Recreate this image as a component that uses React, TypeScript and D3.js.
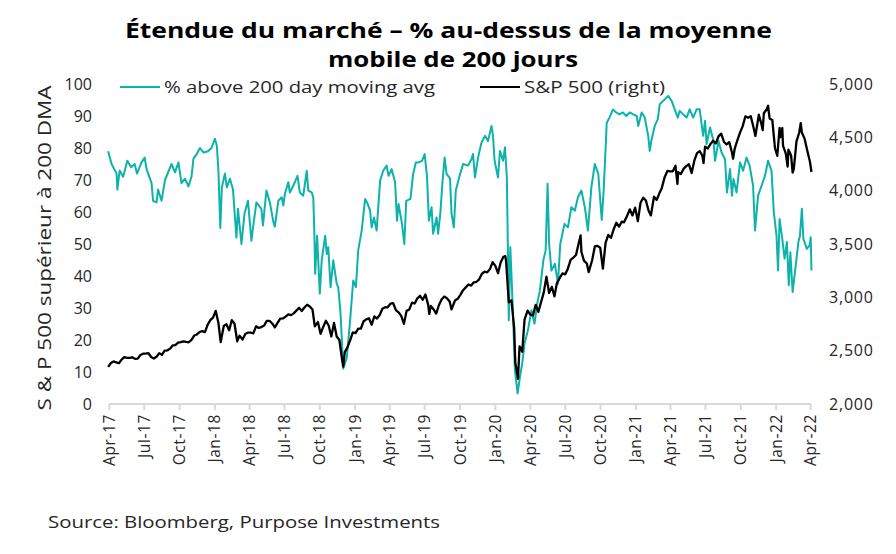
import * as d3 from 'd3';

// % of S&P 500 members above their 200 day moving average (left axis)
const breadth: [string, number][] = [
  ['2017-04-21', 79], ['2017-04-30', 75], ['2017-05-13', 72], ['2017-05-15', 67], ['2017-05-21', 73],
  ['2017-05-30', 71], ['2017-06-10', 76], ['2017-06-20', 74], ['2017-06-29', 75], ['2017-07-05', 72],
  ['2017-07-17', 75.5], ['2017-07-25', 77], ['2017-07-30', 73.5], ['2017-08-12', 69], ['2017-08-16', 63.5],
  ['2017-08-25', 63], ['2017-08-29', 67], ['2017-09-07', 63.5], ['2017-09-16', 70], ['2017-10-03', 75],
  ['2017-10-12', 72.4], ['2017-10-21', 75.5], ['2017-10-29', 69], ['2017-11-07', 70.4], ['2017-11-16', 68],
  ['2017-11-24', 71], ['2017-11-29', 76.6], ['2017-12-07', 78], ['2017-12-16', 80], ['2017-12-25', 78.6],
  ['2018-01-06', 79], ['2018-01-15', 80], ['2018-01-24', 82.9], ['2018-01-29', 80.7], ['2018-02-02', 73],
  ['2018-02-07', 55], ['2018-02-11', 67.7], ['2018-02-19', 72], ['2018-02-24', 67.7], ['2018-03-04', 70.4],
  ['2018-03-12', 67], ['2018-03-21', 52], ['2018-03-25', 61], ['2018-04-03', 50], ['2018-04-11', 59.5],
  ['2018-04-20', 63.5], ['2018-04-29', 51], ['2018-05-03', 55], ['2018-05-12', 63], ['2018-05-25', 61],
  ['2018-05-29', 55.8], ['2018-06-07', 66.7], ['2018-06-16', 63], ['2018-06-25', 57], ['2018-06-29', 55.4],
  ['2018-07-08', 63.5], ['2018-07-17', 64.6], ['2018-07-21', 62], ['2018-07-25', 65.6], ['2018-08-03', 69.3],
  ['2018-08-07', 66.1], ['2018-08-16', 68.2], ['2018-08-27', 71.3], ['2018-09-02', 66.1], ['2018-09-11', 65.1],
  ['2018-09-20', 72.9], ['2018-09-24', 66.7], ['2018-10-03', 66.1], ['2018-10-07', 64.6], ['2018-10-10', 52.6],
  ['2018-10-12', 40.7], ['2018-10-17', 52.6], ['2018-10-24', 34.5], ['2018-10-29', 44.9], ['2018-11-07', 52.6],
  ['2018-11-11', 46.9], ['2018-11-15', 49], ['2018-11-21', 36.5], ['2018-11-28', 44.9], ['2018-12-07', 37.6],
  ['2018-12-11', 36.5], ['2018-12-17', 28.3], ['2018-12-24', 11], ['2019-01-02', 14.3], ['2019-01-11', 26.2],
  ['2019-01-19', 38.6], ['2019-01-26', 36.5], ['2019-02-01', 48], ['2019-02-10', 54.2], ['2019-02-19', 64.1],
  ['2019-02-24', 63], ['2019-03-04', 60.4], ['2019-03-08', 55.2], ['2019-03-14', 58.3], ['2019-03-21', 54.2],
  ['2019-03-30', 69.8], ['2019-04-07', 72.9], ['2019-04-16', 74.5], ['2019-04-21', 71.3], ['2019-04-29', 73.4],
  ['2019-05-08', 69.3], ['2019-05-13', 57.3], ['2019-05-17', 62.5], ['2019-05-26', 56.3], ['2019-06-01', 50],
  ['2019-06-06', 63.5], ['2019-06-17', 64.1], ['2019-06-24', 71.9], ['2019-07-01', 75.5], ['2019-07-08', 75.5],
  ['2019-07-17', 76], ['2019-07-24', 78.1], ['2019-07-30', 71.3], ['2019-08-04', 57.3], ['2019-08-11', 61.5],
  ['2019-08-15', 53.2], ['2019-08-24', 58.3], ['2019-08-28', 53.2], ['2019-09-03', 59.9], ['2019-09-08', 68.8],
  ['2019-09-14', 77], ['2019-09-19', 71.9], ['2019-09-28', 70.5], ['2019-10-02', 59.4], ['2019-10-08', 55.2],
  ['2019-10-13', 66.7], ['2019-10-23', 71.3], ['2019-11-01', 75], ['2019-11-14', 74.5], ['2019-11-23', 76.5],
  ['2019-11-27', 78.1], ['2019-12-02', 70.8], ['2019-12-10', 77], ['2019-12-19', 81.7], ['2019-12-28', 83.8],
  ['2020-01-05', 82.2], ['2020-01-14', 86.9], ['2020-01-18', 83.8], ['2020-01-22', 76], ['2020-01-31', 70.8],
  ['2020-02-05', 79.1], ['2020-02-13', 76], ['2020-02-18', 80.2], ['2020-02-23', 70.8], ['2020-02-26', 45.9],
  ['2020-02-28', 26.2], ['2020-03-03', 49], ['2020-03-09', 31.4], ['2020-03-15', 10.6], ['2020-03-22', 3.3],
  ['2020-03-28', 8.5], ['2020-04-03', 12.7], ['2020-04-09', 18.9], ['2020-04-18', 23.1], ['2020-04-27', 29.3],
  ['2020-05-05', 25.1], ['2020-05-12', 31.4], ['2020-05-19', 35.5], ['2020-05-28', 44.9], ['2020-06-03', 48],
  ['2020-06-08', 68.8], ['2020-06-12', 50], ['2020-06-18', 41.7], ['2020-06-27', 43.8], ['2020-07-05', 37.6],
  ['2020-07-11', 50], ['2020-07-22', 56.3], ['2020-07-31', 55.2], ['2020-08-09', 61.5], ['2020-08-18', 60.4],
  ['2020-08-26', 64.6], ['2020-09-04', 66.7], ['2020-09-13', 61.5], ['2020-09-21', 54.2], ['2020-09-30', 67.7],
  ['2020-10-09', 75], ['2020-10-18', 71.9], ['2020-10-27', 57.5], ['2020-11-01', 66.7], ['2020-11-04', 74.5],
  ['2020-11-09', 87.9], ['2020-11-16', 89.5], ['2020-11-25', 92], ['2020-12-04', 91.1], ['2020-12-12', 90.5],
  ['2020-12-21', 91.1], ['2020-12-30', 90], ['2021-01-08', 91.1], ['2021-01-17', 90.5], ['2021-01-26', 90],
  ['2021-01-30', 86.9], ['2021-02-08', 91.1], ['2021-02-16', 89.5], ['2021-02-25', 83.8], ['2021-03-01', 79.1],
  ['2021-03-05', 82.2], ['2021-03-14', 86.9], ['2021-03-22', 89], ['2021-03-27', 93.7], ['2021-04-09', 95.2],
  ['2021-04-18', 96.3], ['2021-04-27', 94.7], ['2021-05-05', 92.1], ['2021-05-13', 89.5], ['2021-05-18', 91.6],
  ['2021-05-27', 90.5], ['2021-06-05', 89.5], ['2021-06-13', 92.1], ['2021-06-22', 89.5], ['2021-07-01', 92.1],
  ['2021-07-09', 92.1], ['2021-07-18', 83.8], ['2021-07-23', 88.5], ['2021-07-27', 81.2], ['2021-08-05', 86.4],
  ['2021-08-14', 82.2], ['2021-08-18', 76], ['2021-08-27', 82.2], ['2021-09-04', 78.6], ['2021-09-13', 76.5],
  ['2021-09-18', 66.1], ['2021-09-26', 73.4], ['2021-10-01', 65.1], ['2021-10-05', 70.3], ['2021-10-13', 66.1],
  ['2021-10-22', 75.5], ['2021-10-30', 72.9], ['2021-11-08', 77], ['2021-11-16', 74.5], ['2021-11-25', 68.2],
  ['2021-11-30', 54.2], ['2021-12-08', 65.1], ['2021-12-17', 68.2], ['2021-12-26', 71.3], ['2022-01-03', 76],
  ['2022-01-12', 72.9], ['2022-01-18', 59.9], ['2022-01-25', 52.6], ['2022-01-29', 41.7], ['2022-02-02', 57.8],
  ['2022-02-09', 51.6], ['2022-02-15', 45.4], ['2022-02-21', 50.6], ['2022-02-26', 37.1], ['2022-03-02', 47.4],
  ['2022-03-08', 35], ['2022-03-14', 41.2], ['2022-03-23', 50.6], ['2022-03-27', 52.6], ['2022-04-01', 61],
  ['2022-04-05', 51.6], ['2022-04-14', 48.5], ['2022-04-21', 49.5], ['2022-04-24', 52.1], ['2022-04-26', 41.7],
];

// S&P 500 index level (right axis)
const spx: [string, number][] = [
  ['2017-04-21', 2348], ['2017-04-28', 2384], ['2017-05-05', 2399], ['2017-05-12', 2391], ['2017-05-19', 2382],
  ['2017-05-26', 2416], ['2017-06-02', 2439], ['2017-06-09', 2432], ['2017-06-16', 2433], ['2017-06-23', 2438],
  ['2017-06-30', 2423], ['2017-07-07', 2425], ['2017-07-14', 2459], ['2017-07-21', 2472], ['2017-07-28', 2472],
  ['2017-08-04', 2476], ['2017-08-11', 2441], ['2017-08-18', 2426], ['2017-08-25', 2443], ['2017-09-01', 2477],
  ['2017-09-08', 2461], ['2017-09-15', 2500], ['2017-09-22', 2502], ['2017-09-29', 2519], ['2017-10-06', 2549],
  ['2017-10-13', 2553], ['2017-10-20', 2575], ['2017-10-27', 2581], ['2017-11-03', 2588], ['2017-11-10', 2582],
  ['2017-11-17', 2579], ['2017-11-24', 2602], ['2017-12-01', 2642], ['2017-12-08', 2652], ['2017-12-15', 2675],
  ['2017-12-22', 2683], ['2017-12-29', 2674], ['2018-01-05', 2743], ['2018-01-12', 2786], ['2018-01-19', 2810],
  ['2018-01-26', 2873], ['2018-02-02', 2762], ['2018-02-08', 2581], ['2018-02-16', 2732], ['2018-02-23', 2747],
  ['2018-03-02', 2691], ['2018-03-09', 2786], ['2018-03-16', 2752], ['2018-03-23', 2588], ['2018-03-29', 2641],
  ['2018-04-06', 2604], ['2018-04-13', 2656], ['2018-04-20', 2670], ['2018-04-27', 2670], ['2018-05-04', 2663],
  ['2018-05-11', 2728], ['2018-05-18', 2713], ['2018-05-25', 2721], ['2018-06-01', 2735], ['2018-06-08', 2779],
  ['2018-06-15', 2780], ['2018-06-22', 2755], ['2018-06-29', 2718], ['2018-07-06', 2760], ['2018-07-13', 2801],
  ['2018-07-20', 2802], ['2018-07-27', 2819], ['2018-08-03', 2840], ['2018-08-10', 2833], ['2018-08-17', 2850],
  ['2018-08-24', 2875], ['2018-08-31', 2902], ['2018-09-07', 2872], ['2018-09-14', 2905], ['2018-09-21', 2930],
  ['2018-09-28', 2914], ['2018-10-05', 2886], ['2018-10-11', 2728], ['2018-10-19', 2768], ['2018-10-26', 2659],
  ['2018-11-02', 2723], ['2018-11-09', 2781], ['2018-11-16', 2736], ['2018-11-23', 2633], ['2018-11-30', 2760],
  ['2018-12-07', 2633], ['2018-12-14', 2600], ['2018-12-21', 2417], ['2018-12-24', 2351], ['2018-12-28', 2486],
  ['2019-01-04', 2532], ['2019-01-11', 2596], ['2019-01-18', 2671], ['2019-01-25', 2665], ['2019-02-01', 2707],
  ['2019-02-08', 2708], ['2019-02-15', 2776], ['2019-02-22', 2793], ['2019-03-01', 2804], ['2019-03-08', 2743],
  ['2019-03-15', 2822], ['2019-03-22', 2801], ['2019-03-29', 2834], ['2019-04-05', 2893], ['2019-04-12', 2907],
  ['2019-04-18', 2905], ['2019-04-26', 2940], ['2019-05-03', 2946], ['2019-05-10', 2881], ['2019-05-17', 2860],
  ['2019-05-24', 2826], ['2019-05-31', 2752], ['2019-06-07', 2873], ['2019-06-14', 2887], ['2019-06-21', 2950],
  ['2019-06-28', 2942], ['2019-07-05', 2990], ['2019-07-12', 3014], ['2019-07-19', 2977], ['2019-07-26', 3026],
  ['2019-08-02', 2932], ['2019-08-05', 2844], ['2019-08-09', 2919], ['2019-08-16', 2889], ['2019-08-23', 2847],
  ['2019-08-30', 2926], ['2019-09-06', 2979], ['2019-09-13', 3007], ['2019-09-20', 2992], ['2019-09-27', 2962],
  ['2019-10-02', 2887], ['2019-10-11', 2970], ['2019-10-18', 2986], ['2019-10-25', 3023], ['2019-11-01', 3067],
  ['2019-11-08', 3093], ['2019-11-15', 3120], ['2019-11-22', 3110], ['2019-11-29', 3141], ['2019-12-06', 3146],
  ['2019-12-13', 3169], ['2019-12-20', 3221], ['2019-12-27', 3240], ['2020-01-03', 3235], ['2020-01-10', 3265],
  ['2020-01-17', 3330], ['2020-01-24', 3295], ['2020-01-31', 3226], ['2020-02-07', 3328], ['2020-02-14', 3380],
  ['2020-02-19', 3386], ['2020-02-21', 3338], ['2020-02-28', 2954], ['2020-03-06', 2972], ['2020-03-13', 2711],
  ['2020-03-16', 2386], ['2020-03-20', 2305], ['2020-03-23', 2237], ['2020-03-27', 2541], ['2020-04-03', 2489],
  ['2020-04-09', 2790], ['2020-04-17', 2875], ['2020-04-24', 2837], ['2020-05-01', 2831], ['2020-05-08', 2930],
  ['2020-05-15', 2864], ['2020-05-22', 2955], ['2020-05-29', 3044], ['2020-06-05', 3194], ['2020-06-12', 3041],
  ['2020-06-19', 3098], ['2020-06-26', 3009], ['2020-07-02', 3130], ['2020-07-10', 3185], ['2020-07-17', 3225],
  ['2020-07-24', 3216], ['2020-07-31', 3271], ['2020-08-07', 3351], ['2020-08-14', 3373], ['2020-08-21', 3397],
  ['2020-08-28', 3508], ['2020-09-02', 3580], ['2020-09-04', 3427], ['2020-09-11', 3341], ['2020-09-18', 3319],
  ['2020-09-23', 3237], ['2020-10-02', 3348], ['2020-10-09', 3477], ['2020-10-16', 3483], ['2020-10-23', 3465],
  ['2020-10-30', 3270], ['2020-11-06', 3510], ['2020-11-13', 3585], ['2020-11-20', 3558], ['2020-11-27', 3638],
  ['2020-12-04', 3699], ['2020-12-11', 3663], ['2020-12-18', 3709], ['2020-12-24', 3703], ['2020-12-31', 3756],
  ['2021-01-08', 3825], ['2021-01-15', 3768], ['2021-01-22', 3841], ['2021-01-29', 3714], ['2021-02-05', 3887],
  ['2021-02-12', 3934], ['2021-02-19', 3907], ['2021-02-26', 3811], ['2021-03-04', 3768], ['2021-03-12', 3943],
  ['2021-03-19', 3913], ['2021-03-26', 3975], ['2021-04-01', 4020], ['2021-04-09', 4129], ['2021-04-16', 4185],
  ['2021-04-23', 4180], ['2021-04-30', 4181], ['2021-05-07', 4233], ['2021-05-12', 4063], ['2021-05-14', 4174],
  ['2021-05-21', 4156], ['2021-05-28', 4204], ['2021-06-04', 4230], ['2021-06-11', 4247], ['2021-06-18', 4166],
  ['2021-06-25', 4281], ['2021-07-02', 4352], ['2021-07-09', 4370], ['2021-07-16', 4327], ['2021-07-19', 4258],
  ['2021-07-23', 4412], ['2021-07-30', 4395], ['2021-08-06', 4437], ['2021-08-13', 4468], ['2021-08-20', 4442],
  ['2021-08-27', 4509], ['2021-09-03', 4535], ['2021-09-10', 4459], ['2021-09-17', 4433], ['2021-09-24', 4455],
  ['2021-10-01', 4357], ['2021-10-04', 4300], ['2021-10-08', 4391], ['2021-10-15', 4471], ['2021-10-22', 4545],
  ['2021-10-29', 4605], ['2021-11-05', 4697], ['2021-11-12', 4683], ['2021-11-19', 4698], ['2021-11-26', 4595],
  ['2021-12-01', 4513], ['2021-12-10', 4712], ['2021-12-17', 4620], ['2021-12-20', 4568], ['2021-12-23', 4726],
  ['2021-12-31', 4766], ['2022-01-03', 4796], ['2022-01-07', 4677], ['2022-01-14', 4663], ['2022-01-21', 4398],
  ['2022-01-27', 4327], ['2022-02-02', 4589], ['2022-02-04', 4501], ['2022-02-09', 4587], ['2022-02-11', 4419],
  ['2022-02-18', 4349], ['2022-02-23', 4226], ['2022-02-25', 4385], ['2022-03-04', 4329], ['2022-03-08', 4170],
  ['2022-03-11', 4204], ['2022-03-18', 4463], ['2022-03-25', 4543], ['2022-03-29', 4632], ['2022-04-01', 4546],
  ['2022-04-08', 4488], ['2022-04-14', 4393], ['2022-04-22', 4272], ['2022-04-26', 4175],
];

const tickLabels = [
  'Apr-17', 'Jul-17', 'Oct-17', 'Jan-18', 'Apr-18', 'Jul-18', 'Oct-18', 'Jan-19', 'Apr-19', 'Jul-19',
  'Oct-19', 'Jan-20', 'Apr-20', 'Jul-20', 'Oct-20', 'Jan-21', 'Apr-21', 'Jul-21', 'Oct-21', 'Jan-22', 'Apr-22',
];
const leftTicks = [0, 10, 20, 30, 40, 50, 60, 70, 80, 90, 100];
const rightTicks = [2000, 2500, 3000, 3500, 4000, 4500, 5000];

const TEAL = '#0db2aa';
const FONT = "'Open Sans', 'Noto Sans', sans-serif";
const TEXT = '#262626';

const parse = d3.timeParse('%Y-%m-%d');

export default function App() {
  const width = 896;
  const height = 554;
  const margin = { left: 109.3, right: 896 - 810.7, top: 84, bottom: 554 - 404 };

  const start = parse('2017-04-24')!;
  const end = d3.timeMonth.offset(start, 60);
  const x = d3.scaleTime().domain([start, end]).range([margin.left, width - margin.right]);
  const yL = d3.scaleLinear().domain([0, 100]).range([height - margin.bottom, margin.top]);
  const yR = d3.scaleLinear().domain([2000, 5000]).range([height - margin.bottom, margin.top]);

  const tickDates = tickLabels.map((_, i) => d3.timeMonth.offset(start, i * 3));

  const breadthLine = d3.line<[string, number]>()
    .x(d => x(parse(d[0])!))
    .y(d => yL(d[1]));
  const spxLine = d3.line<[string, number]>()
    .x(d => x(parse(d[0])!))
    .y(d => yR(d[1]));

  const fmt = d3.format(',');
  const y0 = yL(0);

  return (
    <svg width={width} height={height} style={{ display: 'block', position: 'absolute', left: 0, top: 0 }}>
      <rect width={width} height={height} fill="#fff" />
      <text x={448.5} y={38} textAnchor="middle" fontFamily={FONT} fontWeight={700} fontSize={22}
        textLength={647} lengthAdjust="spacingAndGlyphs" fill="#000">
        Étendue du marché – % au-dessus de la moyenne
      </text>
      <text x={453} y={67} textAnchor="middle" fontFamily={FONT} fontWeight={700} fontSize={22}
        textLength={250} lengthAdjust="spacingAndGlyphs" fill="#000">
        mobile de 200 jours
      </text>

      {/* legend */}
      <line x1={120} x2={160} y1={87} y2={87} stroke={TEAL} strokeWidth={2} />
      <text x={164} y={93} fontFamily={FONT} fontSize={16} textLength={271} lengthAdjust="spacingAndGlyphs"
        fill={TEXT}>% above 200 day moving avg</text>
      <line x1={480} x2={520} y1={87} y2={87} stroke="#000" strokeWidth={2} />
      <text x={524} y={93} fontFamily={FONT} fontSize={16} textLength={141} lengthAdjust="spacingAndGlyphs"
        fill={TEXT}>S&amp;P 500 (right)</text>

      {/* left axis */}
      {leftTicks.map(t => (
        <text key={t} x={92} y={yL(t) + 5.5} textAnchor="end" fontFamily={FONT} fontSize={16} fill={TEXT}>{t}</text>
      ))}
      <text transform={`translate(51,${(yL(0) + yL(100)) / 2 + 4}) rotate(-90)`} textAnchor="middle"
        fontFamily={FONT} fontSize={18} textLength={325} lengthAdjust="spacingAndGlyphs"
        fill={TEXT}>S &amp; P 500 supérieur à 200 DMA</text>

      {/* right axis */}
      {rightTicks.map(t => (
        <text key={t} x={829} y={yR(t) + 5.5} fontFamily={FONT} fontSize={16} letterSpacing={0.8}
          fill={TEXT}>{fmt(t)}</text>
      ))}

      {/* x axis */}
      <line x1={x(start)} x2={x(end)} y1={y0} y2={y0} stroke="#d9d9d9" strokeWidth={2} />
      {tickDates.map((d, i) => (
        <g key={i} transform={`translate(${x(d)},${y0})`}>
          <line y1={0} y2={6} stroke="#d9d9d9" strokeWidth={2} />
          <text transform="translate(5.5,10) rotate(-90)" textAnchor="end" fontFamily={FONT} fontSize={15.5}
            letterSpacing={0.6} fill={TEXT}>
            {tickLabels[i]}
          </text>
        </g>
      ))}

      {/* series */}
      <path d={breadthLine(breadth) ?? ''} fill="none" stroke={TEAL} strokeWidth={2} strokeLinejoin="round" />
      <path d={spxLine(spx) ?? ''} fill="none" stroke="#000" strokeWidth={2.3} strokeLinejoin="round" />

      <text x={48} y={528} fontFamily={FONT} fontSize={17} textLength={392} lengthAdjust="spacingAndGlyphs"
        fill={TEXT}>Source: Bloomberg, Purpose Investments</text>
    </svg>
  );
}
